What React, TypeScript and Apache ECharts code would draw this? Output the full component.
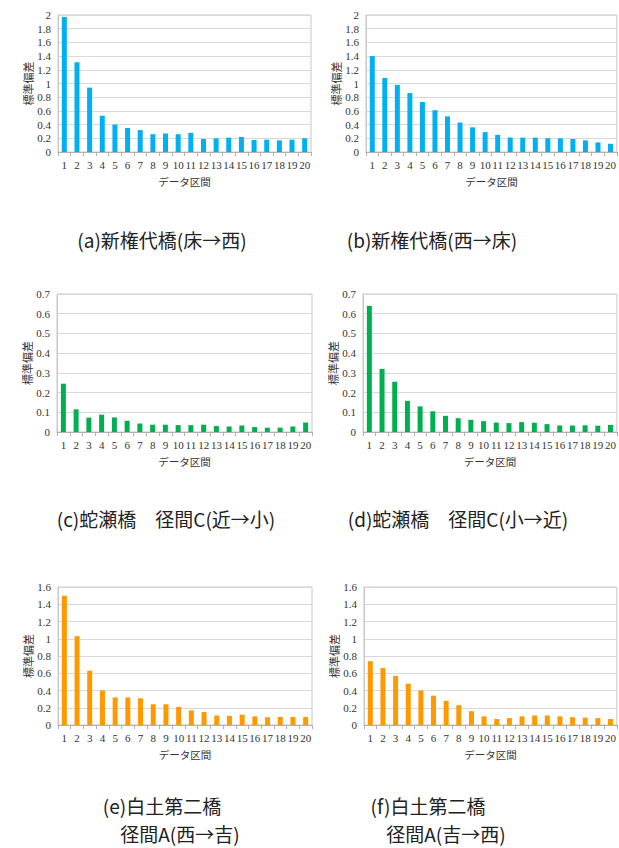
import React, { useEffect, useRef } from "react";
import * as echarts from "echarts";

const categories = ["1","2","3","4","5","6","7","8","9","10","11","12","13","14","15","16","17","18","19","20"];

const seriesA = [1.97,1.31,0.94,0.53,0.40,0.35,0.32,0.26,0.27,0.26,0.28,0.19,0.20,0.21,0.22,0.175,0.18,0.17,0.18,0.20];
const seriesB = [1.40,1.08,0.98,0.86,0.73,0.61,0.52,0.43,0.36,0.29,0.25,0.21,0.21,0.21,0.20,0.20,0.19,0.17,0.14,0.12];
const seriesC = [0.245,0.115,0.073,0.088,0.074,0.057,0.043,0.037,0.037,0.035,0.035,0.037,0.030,0.028,0.033,0.025,0.022,0.022,0.028,0.048];
const seriesD = [0.64,0.32,0.255,0.158,0.13,0.105,0.082,0.07,0.062,0.055,0.048,0.045,0.05,0.047,0.04,0.033,0.033,0.034,0.032,0.036];
const seriesE = [1.50,1.03,0.63,0.40,0.32,0.32,0.31,0.24,0.24,0.21,0.17,0.15,0.11,0.105,0.12,0.10,0.09,0.093,0.093,0.093];
const seriesF = [0.74,0.66,0.57,0.48,0.40,0.34,0.28,0.23,0.16,0.10,0.07,0.08,0.10,0.11,0.11,0.10,0.09,0.085,0.08,0.07];

const yMaxes = [2, 2, 0.7, 0.7, 1.6, 1.6];
const yIntervals = [0.2, 0.2, 0.1, 0.1, 0.2, 0.2];
const colors = ["#00b0f0", "#00b0f0", "#00b050", "#00b050", "#ff9900", "#ff9900"];
const yAxisName = "標準偏差";
const xAxisName = "データ区間";

const captions = [
  { text: "(a)新権代橋(床→西)", x: 162, y: 239 },
  { text: "(b)新権代橋(西→床)", x: 432, y: 239 },
  { text: "(c)蛇瀬橋　径間C(近→小)", x: 166, y: 518 },
  { text: "(d)蛇瀬橋　径間C(小→近)", x: 458, y: 518 },
  { text: "(e)白土第二橋", x: 162, y: 805 },
  { text: "径間A(西→吉)", x: 180, y: 833 },
  { text: "(f)白土第二橋", x: 428, y: 805 },
  { text: "径間A(吉→西)", x: 446, y: 833 },
];

const grids = [
  { left: 58, top: 15, width: 253, height: 137 },
  { left: 366, top: 15, width: 252, height: 137 },
  { left: 57, top: 294, width: 255, height: 138 },
  { left: 363, top: 294, width: 254, height: 138 },
  { left: 58, top: 587, width: 254, height: 138 },
  { left: 364, top: 587, width: 253, height: 138 },
];

export default function App() {
  const ref = useRef<HTMLDivElement>(null);
  useEffect(() => {
    if (!ref.current) return;
    const chart = echarts.init(ref.current, undefined, { renderer: "svg" });
    const data = [seriesA, seriesB, seriesC, seriesD, seriesE, seriesF];
    const serif = "Liberation Serif";
    const jp = "Noto Sans CJK JP";
    chart.setOption({
      animation: false,
      backgroundColor: "#ffffff",
      grid: grids.map((g) => ({
        ...g,
        show: true,
        borderColor: "#c8c8c8",
        borderWidth: 1,
        backgroundColor: "transparent",
      })),
      xAxis: grids.map((_, i) => ({
        type: "category",
        gridIndex: i,
        data: categories,
        boundaryGap: true,
        name: xAxisName,
        nameLocation: "middle",
        nameGap: 24,
        nameTextStyle: { fontFamily: jp, fontSize: 10.5, color: "#333" },
        axisLine: { show: true, lineStyle: { color: "#b0b0b0", width: 1 } },
        axisTick: { show: true, length: 4, alignWithLabel: false, lineStyle: { color: "#b0b0b0" } },
        axisLabel: { fontFamily: serif, fontSize: 11, color: "#333", margin: 7, interval: 0 },
        splitLine: { show: false },
      })),
      yAxis: grids.map((_, i) => ({
        type: "value",
        gridIndex: i,
        min: 0,
        max: yMaxes[i],
        interval: yIntervals[i],
        name: yAxisName,
        nameLocation: "middle",
        nameRotate: 90,
        nameGap: 24,
        nameTextStyle: { fontFamily: jp, fontSize: 11, color: "#333" },
        axisLine: { show: true, lineStyle: { color: "#c8c8c8" } },
        axisTick: { show: false },
        axisLabel: { fontFamily: serif, fontSize: 11, color: "#333", margin: 7 },
        splitLine: { show: true, lineStyle: { color: "#d9d9d9", width: 1 } },
      })),
      series: data.map((d, i) => ({
        type: "bar",
        xAxisIndex: i,
        yAxisIndex: i,
        data: d,
        barWidth: 5,
        itemStyle: { color: colors[i] },
      })),
      graphic: captions.map((c) => ({
        type: "text",
        x: c.x,
        y: c.y,
        style: {
          text: c.text,
          fontFamily: jp,
          fontSize: 19,
          fill: "#222",
          align: "center",
          verticalAlign: "middle",
        },
      })),
    });
    return () => chart.dispose();
  }, []);
  return (
    <div
      ref={ref}
      style={{ position: "absolute", left: 0, top: 0, width: 619, height: 848, background: "#fff" }}
    />
  );
}
